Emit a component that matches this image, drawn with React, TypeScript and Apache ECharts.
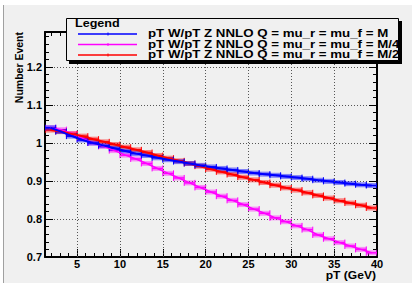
import React, { useEffect, useRef } from "react";
import * as echarts from "echarts";

// ---- data ----
const binWidth = 1.25;
const pT = [
  1.875, 3.125, 4.375, 5.625, 6.875, 8.125, 9.375, 10.625, 11.875, 13.125, 14.375,
  15.625, 16.875, 18.125, 19.375, 20.625, 21.875, 23.125, 24.375, 25.625, 26.875,
  28.125, 29.375, 30.625, 31.875, 33.125, 34.375, 35.625, 36.875, 38.125, 39.375,
];
const ratioM = [
  1.04, 1.03, 1.018, 1.008, 1.0, 0.993, 0.986, 0.979, 0.972, 0.967, 0.961, 0.956,
  0.951, 0.946, 0.941, 0.937, 0.933, 0.929, 0.925, 0.921, 0.918, 0.915, 0.912, 0.909,
  0.906, 0.902, 0.899, 0.896, 0.893, 0.89, 0.888,
];
const ratioM4 = [
  1.04, 1.035, 1.025, 1.012, 1.0, 0.991, 0.98, 0.968, 0.958, 0.946, 0.933, 0.92,
  0.908, 0.895, 0.883, 0.871, 0.86, 0.849, 0.838, 0.826, 0.815, 0.803, 0.793, 0.782,
  0.772, 0.758, 0.748, 0.738, 0.729, 0.72, 0.711,
];
const ratioM2 = [
  1.034, 1.03, 1.024, 1.018, 1.01, 1.003, 0.996, 0.989, 0.982, 0.975, 0.967, 0.96,
  0.953, 0.946, 0.939, 0.931, 0.924, 0.917, 0.91, 0.903, 0.896, 0.889, 0.882, 0.876,
  0.869, 0.862, 0.855, 0.848, 0.842, 0.836, 0.829,
];
const legendNames = [
  "pT W/pT Z NNLO Q = mu_r = mu_f = M",
  "pT W/pT Z NNLO Q = mu_r = mu_f = M/4",
  "pT W/pT Z NNLO Q = mu_r = mu_f = M/2",
];
const xMajorTicks = [5, 10, 15, 20, 25, 30, 35, 40];
const xMinorTicks = [
  2, 3, 4, 6, 7, 8, 9, 11, 12, 13, 14, 16, 17, 18, 19, 21, 22, 23, 24, 26, 27, 28, 29,
  31, 32, 33, 34, 36, 37, 38, 39,
];
const xMin = 1.25;
const xMax = 40;
const yMin = 0.7;
const yMax = 1.292;

const FONT = "'Liberation Sans', Arial, Helvetica, sans-serif";
const BG = "#f0f0f0";

function binSeries(values: number[], color: string, band: string, lw: number) {
  const data = pT.map((x, i) => [x, values[i]]);
  const half = binWidth / 2;
  return [
    {
      type: "custom",
      xAxisIndex: 0,
      yAxisIndex: 0,
      clip: true,
      data,
      encode: { x: 0, y: 1 },
      z: 3,
      renderItem: (_p: any, api: any) => {
        const xc = api.value(0);
        const y = api.value(1);
        const a = api.coord([xc - half, y]);
        const b = api.coord([xc + half, y]);
        return {
          type: "group",
          children: [
            {
              type: "rect",
              shape: { x: a[0], y: a[1] - 2.5, width: b[0] - a[0], height: 5 },
              style: { fill: band },
            },
            {
              type: "line",
              shape: { x1: a[0], y1: a[1], x2: b[0], y2: b[1] },
              style: { stroke: color, lineWidth: 1.5 },
            },
            {
              type: "line",
              shape: { x1: a[0], y1: a[1] - 3, x2: a[0], y2: a[1] + 3 },
              style: { stroke: color, lineWidth: 1 },
            },
            {
              type: "line",
              shape: { x1: b[0], y1: b[1] - 3, x2: b[0], y2: b[1] + 3 },
              style: { stroke: color, lineWidth: 1 },
            },
          ],
        };
      },
    },
    {
      type: "line",
      xAxisIndex: 0,
      yAxisIndex: 0,
      data,
      symbol: "none",
      z: 4,
      lineStyle: { color, width: lw },
    },
  ];
}

const majorX = (position: string, labels: boolean) => ({
  type: "value",
  position,
  min: xMin,
  max: xMax,
  axisLine: { show: true, onZero: false, lineStyle: { color: "#000", width: 2 } },
  axisTick: {
    show: true,
    inside: true,
    length: 8,
    customValues: xMajorTicks,
    lineStyle: { color: "#000", width: 1 },
  },
  axisLabel: {
    show: labels,
    margin: 1,
    color: "#000",
    fontFamily: FONT,
    fontWeight: "bold",
    fontSize: 11,
    customValues: xMajorTicks,
  },
  splitLine: { show: false },
});
const minorX = (position: string) => ({
  type: "value",
  position,
  min: xMin,
  max: xMax,
  axisLine: { show: false, onZero: false },
  axisTick: {
    show: true,
    inside: true,
    length: 4,
    customValues: xMinorTicks,
    lineStyle: { color: "#000", width: 1 },
  },
  axisLabel: { show: false },
  splitLine: { show: false },
});
const majorY = (position: string, labels: boolean, grid: boolean) => ({
  type: "value",
  position,
  min: yMin,
  max: yMax,
  interval: 0.1,
  axisLine: { show: true, onZero: false, lineStyle: { color: "#000", width: 2 } },
  axisTick: { show: true, inside: true, length: 8, lineStyle: { color: "#000", width: 1 } },
  axisLabel: {
    show: labels,
    margin: 3,
    color: "#000",
    fontFamily: FONT,
    fontWeight: "bold",
    fontSize: 11,
    showMaxLabel: false,
    formatter: (v: number) =>
      Math.abs(v * 10 - Math.round(v * 10)) < 1e-6 ? String(Math.round(v * 10) / 10) : "",
  },
  splitLine: {
    show: grid,
    lineStyle: { color: "#555", type: [1, 2], width: 1 },
  },
});
const minorY = (position: string) => ({
  type: "value",
  position,
  min: yMin,
  max: yMax,
  interval: 0.02,
  axisLine: { show: false, onZero: false },
  axisTick: { show: true, inside: true, length: 4, lineStyle: { color: "#000", width: 1 } },
  axisLabel: { show: false },
  splitLine: { show: false },
});

export default function App() {
  const ref = useRef<HTMLDivElement>(null);
  useEffect(() => {
    document.body.style.margin = "0";
    const chart = echarts.init(ref.current!, null, { renderer: "svg" });
    const colors = ["#0000ff", "#ff00ff", "#ff0000"];
    const rowY = [34, 44.5, 55];
    const textY = [33.5, 43.8, 54];
    const legendEls: any[] = [
      { type: "rect", z: 100, shape: { x: 69, y: 21, width: 333, height: 43 }, style: { fill: "#000" } },
      {
        type: "rect",
        z: 101,
        shape: { x: 66.5, y: 18.5, width: 332, height: 42 },
        style: { fill: BG, stroke: "#000", lineWidth: 1 },
      },
      {
        type: "text",
        z: 102,
        x: 75,
        y: 23,
        scaleX: 1.2,
        style: {
          text: "Legend",
          x: 0,
          y: 0,
          fill: "#000",
          fontFamily: FONT,
          fontWeight: "bold",
          fontSize: 10.5,
          textAlign: "left",
          textVerticalAlign: "middle",
        },
      },
    ];
    legendNames.forEach((name, i) => {
      legendEls.push({
        type: "line",
        z: 102,
        shape: { x1: 78, y1: rowY[i], x2: 137, y2: rowY[i] },
        style: { stroke: colors[i], lineWidth: 1.5 },
      });
      legendEls.push({
        type: "line",
        z: 102,
        shape: { x1: 108, y1: rowY[i] - 1.5, x2: 108, y2: rowY[i] + 1.5 },
        style: { stroke: colors[i], lineWidth: 1 },
      });
      legendEls.push({
        type: "text",
        z: 102,
        x: 148,
        y: textY[i],
        scaleX: 1.33,
        style: {
          text: name,
          x: 0,
          y: 0,
          fill: "#000",
          fontFamily: FONT,
          fontWeight: "bold",
          fontSize: 10,
          textAlign: "left",
          textVerticalAlign: "middle",
        },
      });
    });

    chart.setOption({
      animation: false,
      backgroundColor: BG,
      grid: { left: 45, right: 35, top: 32, bottom: 26, containLabel: false },
      xAxis: [majorX("bottom", true), minorX("bottom"), majorX("top", false), minorX("top")],
      yAxis: [majorY("left", true, true), minorY("left"), majorY("right", false, false), minorY("right")],
      series: [
        // vertical dotted grid lines at the major x ticks
        {
          type: "line",
          xAxisIndex: 0,
          yAxisIndex: 0,
          data: [],
          silent: true,
          markLine: {
            silent: true,
            symbol: "none",
            label: { show: false },
            lineStyle: { color: "#555", type: [1, 2], width: 1 },
            data: xMajorTicks.slice(0, -1).map((v) => ({ xAxis: v })),
          },
        },
        ...binSeries(ratioM4, "#ff00ff", "rgba(255,0,255,0.4)", 1.5),
        ...binSeries(ratioM2, "#ff0000", "rgba(255,0,0,0.45)", 2),
        ...binSeries(ratioM, "#0000ff", "rgba(0,0,255,0.45)", 2),
      ],
      graphic: [
        { type: "rect", z: 50, shape: { x: 0, y: 0, width: 412, height: 5 }, style: { fill: "#fff" } },
        { type: "rect", z: 50, shape: { x: 0, y: 0, width: 3, height: 283 }, style: { fill: "#fff" } },
        {
          type: "line",
          z: 51,
          shape: { x1: 3.5, y1: 5, x2: 3.5, y2: 283 },
          style: { stroke: "#a0a0a0", lineWidth: 1 },
        },
        {
          type: "text",
          z: 60,
          x: 19,
          y: 32,
          rotation: Math.PI / 2,
          style: {
            text: "Number Event",
            fill: "#000",
            fontFamily: FONT,
            fontWeight: "bold",
            fontSize: 10.5,
            textAlign: "right",
            textVerticalAlign: "middle",
          },
        },
        {
          type: "text",
          z: 60,
          x: 376,
          y: 275,
          scaleX: 1.15,
          style: {
            text: "pT (GeV)",
            x: 0,
            y: 0,
            fill: "#000",
            fontFamily: FONT,
            fontWeight: "bold",
            fontSize: 10.5,
            textAlign: "right",
            textVerticalAlign: "middle",
          },
        },
        ...legendEls,
      ],
    });
    return () => chart.dispose();
  }, []);
  return <div ref={ref} style={{ width: 412, height: 283, position: "absolute", left: 0, top: 0 }} />;
}
